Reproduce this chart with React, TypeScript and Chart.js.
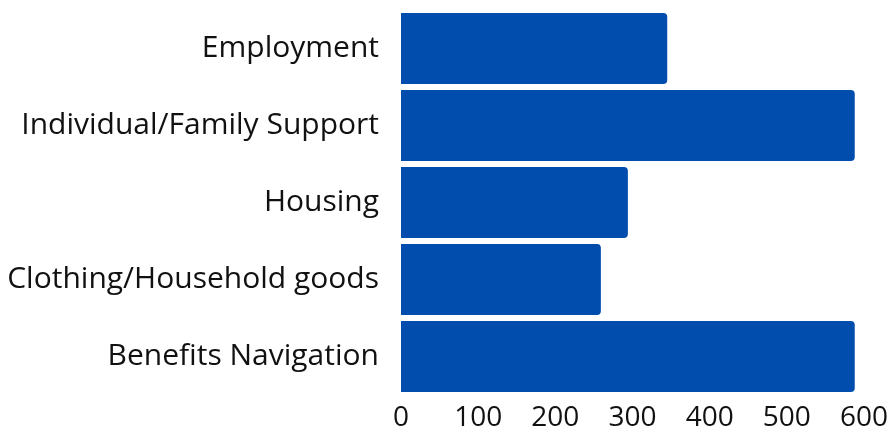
import React, { useEffect, useRef } from "react";
import { Chart, registerables } from "chart.js";

Chart.register(...registerables);

const categories = [
  "Employment",
  "Individual/Family Support",
  "Housing",
  "Clothing/Household goods",
  "Benefits Navigation",
];
const values = [345, 588, 294, 259, 588];
const xMin = 0;
const xMax = 600;
const xStep = 100;

const BAR_COLOR = "#004DAE";
const FONT = "'Open Sans', sans-serif";

export default function App() {
  const ref = useRef<HTMLCanvasElement | null>(null);

  useEffect(() => {
    document.body.style.margin = "0";
    const chart = new Chart(ref.current as HTMLCanvasElement, {
      type: "bar",
      data: {
        labels: categories,
        datasets: [
          {
            data: values,
            backgroundColor: BAR_COLOR,
            borderRadius: 4,
            borderSkipped: "start",
            barPercentage: 1,
            categoryPercentage: 0.92,
          },
        ],
      },
      options: {
        indexAxis: "y",
        animation: false,
        responsive: false,
        maintainAspectRatio: false,
        layout: { padding: { top: 10, right: 29, left: 0, bottom: 0 } },
        plugins: {
          legend: { display: false },
          tooltip: { enabled: false },
          title: { display: false },
        },
        scales: {
          x: {
            min: xMin,
            max: xMax,
            ticks: {
              stepSize: xStep,
              color: "#111",
              font: { family: FONT, size: 28 },
              padding: 6,
            },
            grid: { display: false, drawTicks: false },
            border: { display: false },
            afterFit: (scale: any) => {
              scale.height = 35;
              scale.paddingLeft = 0;
              scale.paddingRight = 0;
            },
          },
          y: {
            ticks: {
              color: "#111",
              font: { family: FONT, size: 30 },
              padding: 22,
            },
            grid: { display: false, drawTicks: false },
            border: { display: false },
            afterFit: (scale: any) => {
              scale.width = 401;
              scale.paddingTop = 0;
              scale.paddingBottom = 0;
            },
          },
        },
      },
    });
    return () => chart.destroy();
  }, []);

  return (
    <div style={{ position: "fixed", left: 0, top: 0, width: 893, height: 430 }}>
      <canvas ref={ref} width={893} height={430} style={{ display: "block" }} />
    </div>
  );
}
